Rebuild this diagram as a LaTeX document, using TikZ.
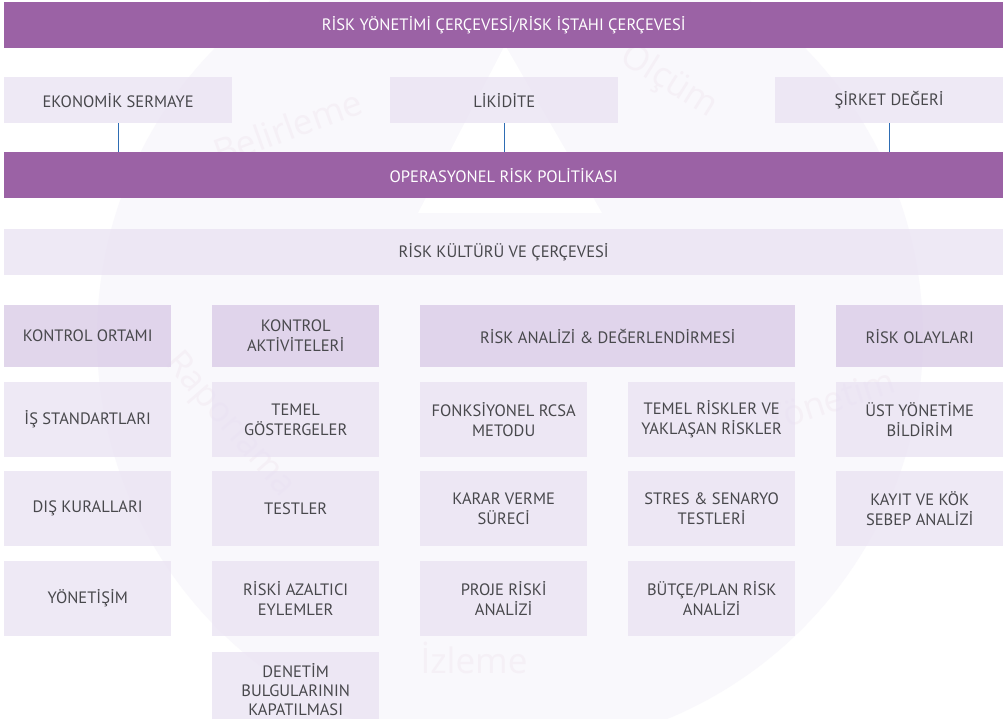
\documentclass[tikz,border=0pt]{standalone}
\usepackage{fontspec}
\setmainfont{PT Sans}
\newfontfamily\wmfont{Open Sans}
\definecolor{barpurple}{RGB}{155,98,165}
\definecolor{headc}{RGB}{218,204,231}
\definecolor{boxc}{RGB}{232,224,242}
\definecolor{diskc}{RGB}{249,248,252}
\definecolor{txt}{RGB}{72,72,76}
\definecolor{wmc}{RGB}{245,240,246}
\definecolor{linec}{RGB}{46,109,180}
\tikzset{
  lbl/.style={font=\fontsize{16.5}{20}\selectfont},
  bar/.style={lbl, fill=barpurple, text=white, anchor=north west, minimum width=999pt, minimum height=46pt, inner sep=0pt},
  lightbar/.style={lbl, fill=boxc, fill opacity=0.7, text opacity=1, text=txt, anchor=north west, minimum width=999pt, minimum height=46pt, inner sep=0pt},
  topbox/.style={lbl, fill=boxc, fill opacity=0.7, text opacity=1, text=txt, anchor=north west, minimum width=228pt, minimum height=46pt, inner sep=0pt},
  headbox/.style={lbl, fill=headc, fill opacity=0.8, text opacity=1, text=txt, anchor=north west, minimum width=167pt, minimum height=62pt, inner sep=0pt, align=center},
  cellbox/.style={lbl, fill=boxc, fill opacity=0.7, text opacity=1, text=txt, anchor=north west, minimum width=167pt, minimum height=75pt, inner sep=0pt, align=center},
  link/.style={draw=linec, line width=1.3pt},
  wm/.style={text=wmc, font=\wmfont\fontsize{35}{35}\selectfont, inner sep=0pt}
}
\begin{document}
\begin{tikzpicture}[x=1pt,y=-1pt]
\useasboundingbox (0,0) rectangle (1005,719);
\clip (0,0) rectangle (1005,719);
\fill[white] (0,0) rectangle (1005,719);
% watermark logo
\fill[diskc] (510,337) circle (413);
\fill[white] (505,45) -- (418,213) -- (602,213) -- cycle;
\node[wm, rotate=20] (wmb) at (288,127) {Belirleme};
\node[wm, rotate=-32] (wmo) at (670,80) {Ölçüm};
\node[wm, rotate=-49] (wmr) at (230,425) {Raporlama};
\node[wm, rotate=18] (wmy) at (830,400) {Yönetim};
\node[wm] (wmi) at (474,658) {İzleme};
% bars
\node[bar] (top) at (4,2) {RİSK YÖNETİMİ ÇERÇEVESİ/RİSK İŞTAHI ÇERÇEVESİ};
\node[topbox] (ekon) at (4,77) {EKONOMİK SERMAYE};
\node[topbox] (lik) at (390,77) {LİKİDİTE};
\node[topbox] (sirket) at (775,77) {ŞİRKET DEĞERİ};
\node[bar] (op) at (4,152) {OPERASYONEL RİSK POLİTİKASI};
\draw[link] (ekon.south) -- (ekon.south |- op.north);
\draw[link] (lik.south) -- (lik.south |- op.north);
\draw[link] (sirket.south) -- (sirket.south |- op.north);
\node[lightbar] (kultur) at (4,229) {RİSK KÜLTÜRÜ VE ÇERÇEVESİ};
% headers
\node[headbox] (h1) at (4,305) {KONTROL ORTAMI};
\node[headbox] (h2) at (212,305) {KONTROL\\AKTİVİTELERİ};
\node[headbox, minimum width=375pt] (h3) at (420,305) {RİSK ANALİZİ \& DEĞERLENDİRMESİ};
\node[headbox] (h4) at (836,305) {RİSK OLAYLARI};
% column 1
\node[cellbox] (c11) at (4,382) {İŞ STANDARTLARI};
\node[cellbox] (c12) at (4,471) {DIŞ KURALLARI};
\node[cellbox] (c13) at (4,561) {YÖNETİŞİM};
% column 2
\node[cellbox] (c21) at (212,382) {TEMEL\\GÖSTERGELER};
\node[cellbox] (c22) at (212,471) {TESTLER};
\node[cellbox] (c23) at (212,561) {RİSKİ AZALTICI\\EYLEMLER};
\node[cellbox, font=\fontsize{16.5}{19}\selectfont] (c24) at (212,652) {DENETİM\\BULGULARININ\\KAPATILMASI};
% column 3a
\node[cellbox] (c31) at (420,382) {FONKSİYONEL RCSA\\METODU};
\node[cellbox] (c32) at (420,471) {KARAR VERME\\SÜRECİ};
\node[cellbox] (c33) at (420,561) {PROJE RİSKİ\\ANALİZİ};
% column 3b
\node[cellbox] (c41) at (628,382) {TEMEL RİSKLER VE\\YAKLAŞAN RİSKLER};
\node[cellbox] (c42) at (628,471) {STRES \& SENARYO\\TESTLERİ};
\node[cellbox] (c43) at (628,561) {BÜTÇE/PLAN RİSK\\ANALİZİ};
% column 4
\node[cellbox] (c51) at (836,382) {ÜST YÖNETİME\\BİLDİRİM};
\node[cellbox] (c52) at (836,471) {KAYIT VE KÖK\\SEBEP ANALİZİ};
\end{tikzpicture}
\end{document}
